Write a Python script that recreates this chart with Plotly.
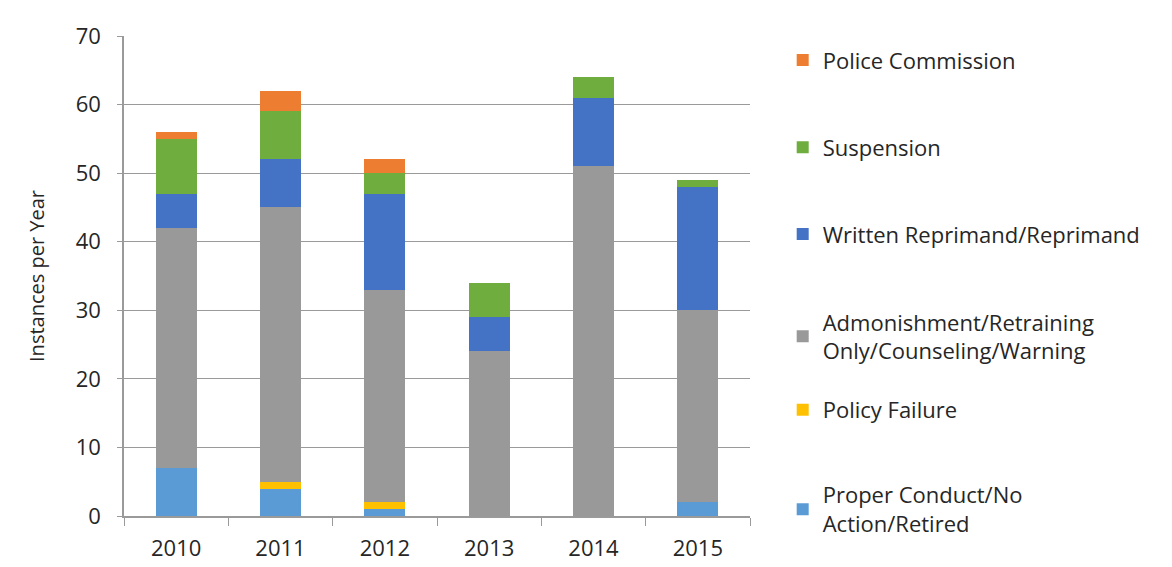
import plotly.graph_objects as go

years = ["2010", "2011", "2012", "2013", "2014", "2015"]
proper_conduct = [7, 4, 1, 0, 0, 2]
policy_failure = [0, 1, 1, 0, 0, 0]
admonishment = [35, 40, 31, 24, 51, 28]
written_reprimand = [5, 7, 14, 5, 10, 18]
suspension = [8, 7, 3, 5, 3, 1]
police_commission = [1, 3, 2, 0, 0, 0]

series = [
    ("Proper Conduct/No<br>Action/Retired", proper_conduct, "#5B9BD5"),
    ("Policy Failure", policy_failure, "#FFC000"),
    ("Admonishment/Retraining<br>Only/Counseling/Warning", admonishment, "#999999"),
    ("Written Reprimand/Reprimand", written_reprimand, "#4472C4"),
    ("Suspension", suspension, "#6FAD3F"),
    ("Police Commission", police_commission, "#ED7D31"),
]

FONT = "Open Sans, Lato, sans-serif"
# legend top positions (container coords) for each series
legend_y = [0.178, 0.328, 0.483, 0.638, 0.791, 0.945]

fig = go.Figure()
layout_legends = {}
for i, (name, vals, color) in enumerate(series):
    lname = "legend" if i == 0 else f"legend{i+1}"
    fig.add_trace(go.Bar(x=years, y=vals, name=name, marker=dict(color=color, line=dict(width=0)),
                         legend=lname))
    layout_legends[lname] = dict(
        x=0.661, y=legend_y[i], xref="container", yref="container", xanchor="left", yanchor="top",
        bgcolor="rgba(0,0,0,0)", font=dict(family=FONT, size=22, color="#262626"),
        itemwidth=30, tracegroupgap=0,
    )

fig.update_layout(
    barmode="stack",
    bargap=0.61,
    width=1172, height=567,
    margin=dict(l=116, r=430, t=26, b=59),
    paper_bgcolor="white", plot_bgcolor="white",
    font=dict(family=FONT, size=20, color="#262626"),
    showlegend=True,
    **layout_legends,
)
fig.update_xaxes(
    type="category", showline=True, linecolor="#9a9a9a", linewidth=1.5,
    ticks="outside", tickson="boundaries", ticklen=8, tickcolor="#9a9a9a",
    tickfont=dict(size=22), ticklabelstandoff=12, showgrid=False,
)
fig.update_yaxes(
    range=[0, 70], dtick=10, showgrid=True, gridcolor="#9a9a9a", gridwidth=1,
    showline=True, linecolor="#9a9a9a", linewidth=1.5, ticks="outside", ticklen=5,
    tickcolor="#9a9a9a", tickfont=dict(size=22), ticklabelstandoff=12, zeroline=False,
    title=dict(text="Instances per Year", font=dict(size=20), standoff=26),
)
fig.write_html("out.html")
